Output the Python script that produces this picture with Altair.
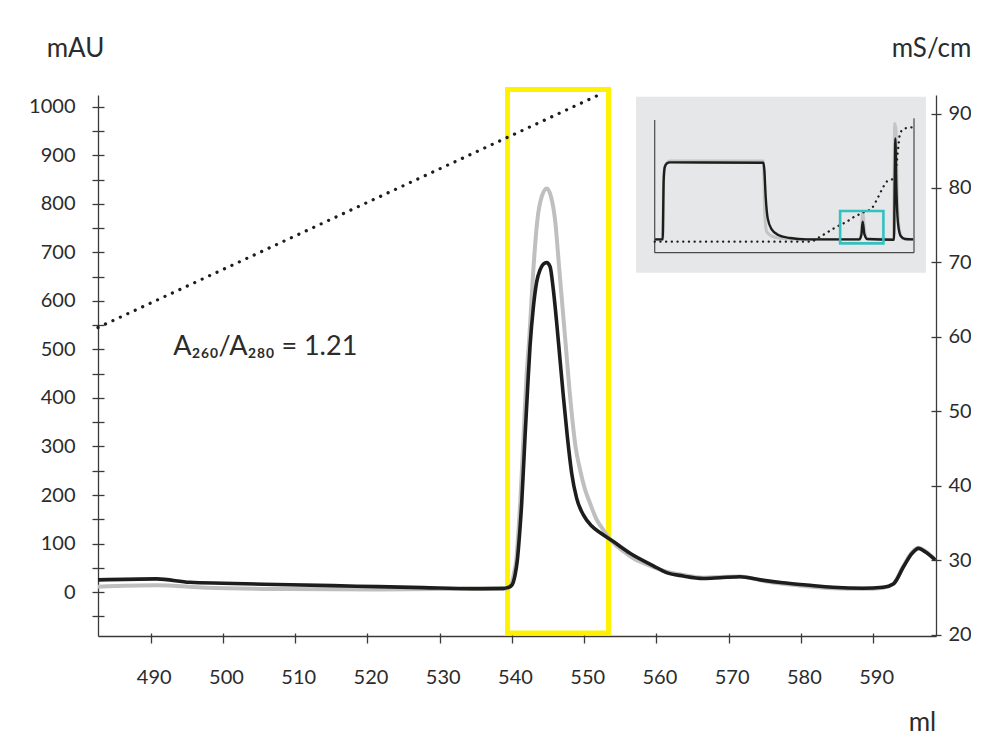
import altair as alt
import pandas as pd

# ---------------- main chromatogram data ----------------
a280_ml = [482.7, 490.8, 495.4, 500.0, 509.3, 518.5, 527.7, 534.6, 538.8, 539.4, 539.97, 540.43,
           540.75, 541.03, 541.35, 541.81, 542.18, 542.5, 542.97, 543.43, 543.89, 544.35, 544.81,
           545.27, 545.73, 546.2, 546.66, 547.12, 547.67, 548.27, 548.96, 549.89, 551.04, 552.42,
           554.04, 556.35, 559.57, 561.4, 563.7, 566.5, 568.8,
           571.6, 574.4, 577.5, 580.8, 584.4, 588.6, 591.4, 592.8, 594.2, 595.4, 596.3, 597.2, 598.6]
a280_mau = [25, 27, 20, 18, 15, 12, 9, 7, 7.5, 9, 14, 35,
            66, 114, 183, 320, 423, 506, 588, 640, 664, 676, 679,
            671, 623, 554, 478, 403, 320, 245, 193, 159, 136, 120,
            104, 80, 54, 40, 33, 28, 29.5,
            31.5, 25, 19, 14.4, 9.7, 7.6, 9.7, 16.5, 52, 80, 90, 83, 66]

a260_ml = [482.7, 490.8, 497.7, 509.3, 521.0, 530.0, 538.8, 539.4, 539.9, 540.3, 540.6, 540.85,
           541.15, 541.6, 542.0, 542.41, 542.96, 543.52, 544.12, 544.82, 545.41, 545.97, 546.56,
           547.35, 548.14, 548.8, 549.43, 550.1, 550.81, 551.7, 552.65, 553.4, 555.42, 556.74,
           558.66, 561.4, 563.7, 566.5, 568.8, 571.6,
           574.4, 577.5, 580.8, 584.4, 588.6, 591.4, 592.8, 594.2, 595.4, 596.3, 597.2, 598.6]
a260_mau = [11, 14, 9, 6, 5, 6, 6, 8, 15, 40, 66, 114,
            183, 320, 440, 526, 664, 767, 815, 832, 815, 767, 664,
            526, 389, 300, 252, 212, 183, 150, 128, 112, 84, 70,
            57, 42, 35, 29.5, 31, 32,
            24, 17, 12, 8, 6.5, 9, 17, 54, 82, 91, 84, 67]

cond_ml = [482.7, 551.8]
cond_ms = [61.25, 92.4]

box_ml = [539.39, 553.37]
box_mau = [-84.5, 1036]

note_ml = [493.1]
note_mau = [489]
note_text = ["A\u2082\u2086\u2080/A\u2082\u2088\u2080 = 1.21"]

# ---------------- inset (whole run) data ----------------
in_a280_ml = [-15, 6.4, 9.1, 11.8, 17.2, 26.1, 276.2, 278.9, 282.5, 287.9, 298.6, 316.5, 347.7,
              392.4, 533.5, 538.9, 542.4, 547.0, 555.0, 626.5, 628.3, 630.0, 632.7, 637.2, 644.3,
              655.9, 678.3]
in_a280_mau = [25, 25, 2228, 2699, 2847, 2885, 2872, 2600, 1609, 805, 396, 186, 74,
               25, 25, 186, 681, 223, 37, 12, 2228, 3776, 1981, 619, 149,
               37, 25]
in_a260_ml = [-15, 6.4, 9.1, 13.6, 26.1, 276.2, 278.0, 279.8, 285.2, 303.0, 338.8, 392.4,
              533.5, 538.9, 542.4, 547.9, 555.0, 624.7, 626.5, 628.3, 631.8, 635.4, 640.8,
              651.5, 678.3]
in_a260_mau = [25, 25, 2352, 2786, 2934, 2934, 2228, 990, 310, 124, 50, 25,
               25, 310, 1052, 310, 37, 25, 2228, 4333, 4085, 1609, 371,
               50, 25]
in_cond_ml = [-15, 401.3, 428.1, 450.5, 472.8, 499.6, 517.5, 544.3, 566.6, 580.0, 593.4,
              606.8, 620.2, 629.1, 633.6, 638.1, 642.5, 651.5, 664.9, 678.3]
in_cond_pct = [0, 0, 4.3, 8.7, 13.0, 17.4, 21.2, 25.5, 29.0, 36.2, 44.9,
               52.2, 54.2, 54.5, 68.1, 82.6, 94.2, 97.7, 99.1, 99.4]
in_zoom_ml = [482, 598]
in_zoom_mau = [-124, 1077]
in_bg_ml = [-65, 712]
in_bg_mau = [-1213, 5325]
in_frame_x = [-15, -15, 680]
in_frame_x2 = [-15, 680, 680]
in_frame_y = [-470, -470, -470]
in_frame_y2 = [4460, -470, 4523]

# ---------------- layout / style ----------------
W, H = 838, 541
FONT = "Lato"
INK = "#2b2b2b"
AXIS = "#3a3a3a"
X_DOMAIN = [482.7, 598.7]
MAU_DOMAIN = [-90.7, 1024.7]
MS_DOMAIN = [19.8, 92.49]
X_TICKS = list(range(490, 591, 10))
MAU_TICKS = list(range(-50, 1001, 50))
MS_TICKS = list(range(20, 91, 10))


def xs():
    return alt.Scale(domain=X_DOMAIN, nice=False, zero=False)


def ys():
    return alt.Scale(domain=MAU_DOMAIN, nice=False, zero=False)


def ms():
    return alt.Scale(domain=MS_DOMAIN, nice=False, zero=False)


def ixs():
    return alt.Scale(domain=[-15, 680], range=[556.7, 816], nice=False, zero=False)


def iys():
    return alt.Scale(domain=[-470, 4460], range=[157.7, 25], nice=False, zero=False)


def ics():
    return alt.Scale(domain=[0, 100], range=[146.7, 31.7], nice=False, zero=False)


df_a280 = pd.DataFrame({"ml": a280_ml, "mAU": a280_mau})
df_a260 = pd.DataFrame({"ml": a260_ml, "mAU": a260_mau})
df_cond = pd.DataFrame({"ml": cond_ml, "ms": cond_ms})
df_box = pd.DataFrame({"x": [box_ml[0]], "x2": [box_ml[1]], "y": [box_mau[0]], "y2": [box_mau[1]]})
df_note = pd.DataFrame({"ml": note_ml, "mAU": note_mau, "t": note_text})

df_in280 = pd.DataFrame({"ml": in_a280_ml, "mAU": in_a280_mau})
df_in260 = pd.DataFrame({"ml": in_a260_ml, "mAU": in_a260_mau})
df_incond = pd.DataFrame({"ml": in_cond_ml, "pct": in_cond_pct})
df_inzoom = pd.DataFrame({"x": [in_zoom_ml[0]], "x2": [in_zoom_ml[1]], "y": [in_zoom_mau[0]], "y2": [in_zoom_mau[1]]})
df_inbg = pd.DataFrame({"x": [in_bg_ml[0]], "x2": [in_bg_ml[1]], "y": [in_bg_mau[0]], "y2": [in_bg_mau[1]]})
df_inframe = pd.DataFrame({"x": in_frame_x, "x2": in_frame_x2, "y": in_frame_y, "y2": in_frame_y2})

# ---------------- inset layers ----------------
inset_bg = alt.Chart(df_inbg).mark_rect(color="#e6e7e8").encode(
    x=alt.X("x:Q", scale=ixs(), axis=None), x2="x2:Q",
    y=alt.Y("y:Q", scale=iys(), axis=None), y2="y2:Q")

inset_frame = alt.Chart(df_inframe).mark_rule(color="#4a4a4a", strokeWidth=1.2).encode(
    x=alt.X("x:Q", scale=ixs(), axis=None), x2="x2:Q",
    y=alt.Y("y:Q", scale=iys(), axis=None), y2="y2:Q")

inset_gray = alt.Chart(df_in260).mark_line(color="#c4c4c4", strokeWidth=3, interpolate="monotone").encode(
    x=alt.X("ml:Q", scale=ixs(), axis=None),
    y=alt.Y("mAU:Q", scale=iys(), axis=None))

inset_black = alt.Chart(df_in280).mark_line(color="#1d1d1b", strokeWidth=2.4, interpolate="monotone").encode(
    x=alt.X("ml:Q", scale=ixs(), axis=None),
    y=alt.Y("mAU:Q", scale=iys(), axis=None))

inset_cond = alt.Chart(df_incond).mark_line(color="#1d1d1b", strokeWidth=2.3, strokeCap="round",
                                            strokeDash=[0.1, 5.6], interpolate="monotone").encode(
    x=alt.X("ml:Q", scale=ixs(), axis=None),
    y=alt.Y("pct:Q", scale=ics(), axis=None))

inset_zoom = alt.Chart(df_inzoom).mark_rect(fillOpacity=0, stroke="#35c0c0", strokeWidth=2.6).encode(
    x=alt.X("x:Q", scale=ixs(), axis=None), x2="x2:Q",
    y=alt.Y("y:Q", scale=iys(), axis=None), y2="y2:Q")

# ---------------- main layers ----------------
yellow = alt.Chart(df_box).mark_rect(fillOpacity=0, stroke="#fff200", strokeWidth=5).encode(
    x=alt.X("x:Q", scale=xs(), axis=None), x2="x2:Q",
    y=alt.Y("y:Q", scale=ys(), axis=None), y2="y2:Q")

cond = alt.Chart(df_cond).mark_line(color="#1d1d1b", strokeWidth=3.2, strokeCap="round",
                                    strokeDash=[0.1, 8.1]).encode(
    x=alt.X("ml:Q", scale=xs(), axis=None),
    y=alt.Y("ms:Q", scale=ms(), axis=alt.Axis(
        orient="right", values=MS_TICKS, format="d", tickSize=5, labelPadding=7,
        title="mS/cm", titleAngle=0, titleX=-5, titleY=-47, titleAlign="center",
        titleBaseline="middle")))

cond_ticks = alt.Chart(df_cond).mark_line(opacity=0).encode(
    x=alt.X("ml:Q", scale=xs(), axis=None),
    y=alt.Y("ms:Q", scale=ms(), axis=alt.Axis(
        orient="right", values=MS_TICKS, offset=-5, tickSize=5, labels=False,
        domain=False, title=None)))

gray = alt.Chart(df_a260).mark_line(color="#bfbfbf", strokeWidth=4, interpolate="monotone").encode(
    x=alt.X("ml:Q", scale=xs(), axis=alt.Axis(
        orient="bottom", values=X_TICKS, offset=-3, tickSize=3, labels=False,
        domain=False, title=None)),
    y=alt.Y("mAU:Q", scale=ys(), axis=alt.Axis(
        orient="left", values=MAU_TICKS, offset=-6, tickSize=6, labels=False,
        domain=False, title=None)))

black = alt.Chart(df_a280).mark_line(color="#1d1d1b", strokeWidth=3.6, interpolate="monotone").encode(
    x=alt.X("ml:Q", scale=xs(), axis=alt.Axis(
        orient="bottom", values=X_TICKS, format="d", tickSize=7, labelPadding=24, labelOffset=3,
        title="ml", titleX=824, titleY=94, titleAlign="center", titleBaseline="alphabetic")),
    y=alt.Y("mAU:Q", scale=ys(), axis=alt.Axis(
        orient="left", values=MAU_TICKS, format="d", tickSize=6, labelPadding=17,
        labelExpr="datum.value % 100 === 0 ? datum.label : ''",
        title="mAU", titleAngle=0, titleX=-23, titleY=-47, titleAlign="center",
        titleBaseline="middle")))

note = alt.Chart(df_note).mark_text(align="left", baseline="alphabetic", font=FONT, fontSize=27,
                                    color=INK).encode(
    x=alt.X("ml:Q", scale=xs(), axis=None),
    y=alt.Y("mAU:Q", scale=ys(), axis=None),
    text="t:N")

chart = alt.layer(
    inset_bg, inset_frame, inset_gray, inset_black, inset_cond, inset_zoom,
    yellow, cond, gray, black, note, cond_ticks
).resolve_scale(
    x="independent", y="independent"
).properties(
    width=W, height=H,
    autosize=alt.AutoSizeParams(type="none"),
    padding={"left": 90, "top": 87, "right": 35, "bottom": 101},
).configure_view(
    stroke=None
).configure_axis(
    grid=False, domainColor=AXIS, domainWidth=1.3, tickColor=AXIS, tickWidth=1.3,
    labelFont=FONT, labelFontSize=20, labelColor=INK, labelOverlap=False,
    titleFont=FONT, titleFontSize=26, titleFontWeight="normal", titleColor=INK,
)

chart.save("out.html", embed_options={"renderer": "svg", "actions": False})
